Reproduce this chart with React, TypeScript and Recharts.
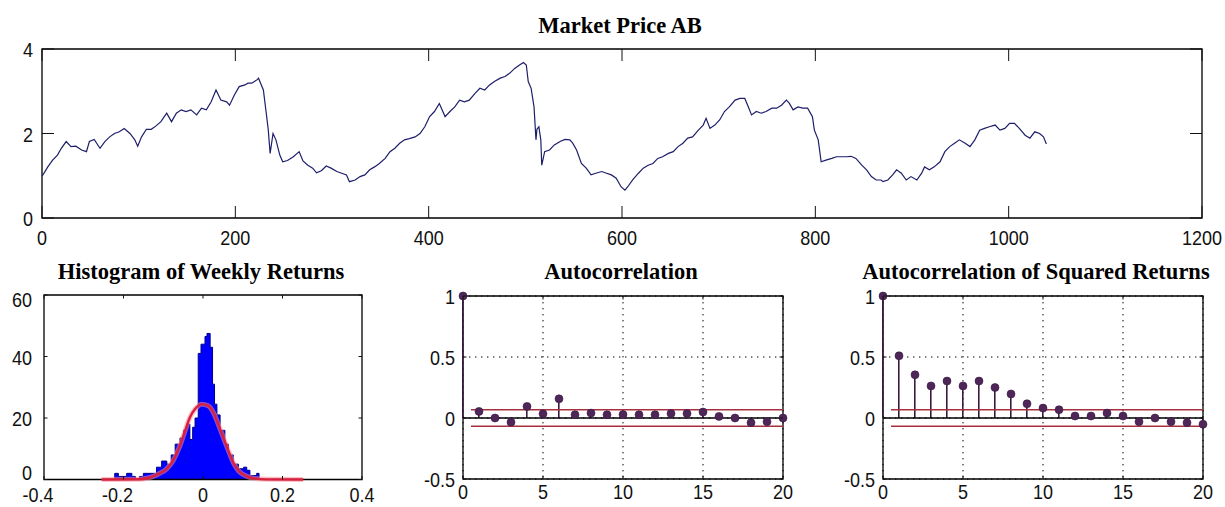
import React from 'react';
import {
  ComposedChart,
  Line,
  Area,
  Bar,
  Scatter,
  XAxis,
  YAxis,
  ReferenceLine,
  ReferenceArea,
  CartesianGrid,
} from 'recharts';

// ---- Weekly market price (week index, price) ----
const priceSeries: [number, number][] = [
  [0, 1.0], [1, 1.02], [6, 1.21], [11, 1.37], [16, 1.49], [20, 1.65], [25, 1.81], [30, 1.69],
  [35, 1.7], [41, 1.61], [46, 1.57], [49, 1.81], [54, 1.86], [60, 1.65], [65, 1.81], [70, 1.92],
  [75, 2.0], [80, 2.04], [85, 2.12], [91, 2.0], [96, 1.85], [99, 1.7], [103, 1.92], [108, 2.1],
  [113, 2.1], [118, 2.18], [123, 2.28], [129, 2.48], [134, 2.28], [139, 2.48], [144, 2.56],
  [149, 2.52], [154, 2.56], [160, 2.44], [165, 2.6], [170, 2.56], [175, 2.75], [180, 3.03],
  [185, 2.79], [191, 2.75], [194, 2.67], [199, 2.91], [204, 3.11], [210, 3.15], [213, 3.19],
  [217, 3.19], [223, 3.28], [224, 3.31], [229, 3.03], [232, 2.48], [234, 2.1], [236, 1.53],
  [239, 2.0], [242, 1.85], [246, 1.49], [249, 1.33], [254, 1.36], [260, 1.45], [266, 1.57],
  [270, 1.35], [275, 1.25], [280, 1.18], [284, 1.07], [289, 1.12], [294, 1.23], [299, 1.18],
  [305, 1.1], [310, 1.06], [315, 1.02], [318, 0.86], [324, 0.9], [329, 0.98], [334, 1.02],
  [339, 1.14], [344, 1.21], [349, 1.29], [355, 1.41], [360, 1.57], [365, 1.65], [370, 1.77],
  [375, 1.85], [380, 1.88], [386, 1.92], [391, 2.0], [396, 2.16], [401, 2.4], [406, 2.52],
  [411, 2.71], [417, 2.4], [422, 2.52], [427, 2.63], [432, 2.79], [437, 2.75], [442, 2.79],
  [448, 2.95], [453, 3.07], [458, 3.03], [463, 3.15], [468, 3.23], [474, 3.31], [479, 3.35],
  [484, 3.43], [489, 3.54], [494, 3.62], [498, 3.68], [501, 3.62], [503, 3.23], [506, 3.07],
  [509, 2.63], [511, 1.85], [512, 2.1], [514, 2.16], [516, 1.85], [517, 1.25], [520, 1.57],
  [525, 1.61], [530, 1.73], [536, 1.81], [541, 1.86], [546, 1.85], [549, 1.77], [553, 1.61],
  [558, 1.29], [563, 1.18], [568, 1.02], [573, 1.06], [579, 1.1], [584, 1.06], [589, 1.02],
  [594, 0.94], [599, 0.74], [603, 0.66], [606, 0.74], [611, 0.9], [617, 1.06], [622, 1.18],
  [627, 1.25], [632, 1.29], [637, 1.41], [642, 1.45], [648, 1.53], [653, 1.57], [658, 1.69],
  [663, 1.77], [668, 1.89], [673, 1.92], [679, 2.08], [684, 2.2], [687, 2.36], [691, 2.12],
  [696, 2.2], [701, 2.32], [706, 2.52], [711, 2.63], [717, 2.79], [722, 2.83], [727, 2.83],
  [730, 2.67], [734, 2.44], [739, 2.52], [744, 2.48], [749, 2.52], [755, 2.6], [760, 2.6],
  [765, 2.67], [770, 2.79], [773, 2.72], [777, 2.56], [782, 2.63], [787, 2.6], [792, 2.6],
  [797, 2.4], [799, 2.08], [803, 1.85], [806, 1.33], [811, 1.37], [817, 1.41], [822, 1.45],
  [827, 1.45], [832, 1.45], [837, 1.46], [842, 1.41], [848, 1.25], [853, 1.14], [858, 0.98],
  [863, 0.9], [868, 0.9], [870, 0.86], [875, 0.9], [880, 1.02], [884, 1.14], [889, 1.06],
  [894, 0.9], [899, 0.98], [905, 0.9], [910, 1.06], [913, 1.21], [918, 1.14], [923, 1.21],
  [929, 1.33], [934, 1.57], [939, 1.69], [944, 1.77], [949, 1.85], [955, 1.77], [960, 1.69],
  [965, 1.85], [970, 2.08], [975, 2.12], [980, 2.16], [986, 2.2], [991, 2.08], [996, 2.12],
  [1001, 2.24], [1006, 2.24], [1011, 2.12], [1017, 1.96], [1022, 1.89], [1027, 2.04],
  [1032, 2.0], [1036, 1.92], [1039, 1.75],
];

// ---- Histogram of weekly returns: [left bin edge, count] ----
const histBins: [number, number][] = [
  [-0.255, 0], [-0.222, 2], [-0.213, 1], [-0.192, 2], [-0.179, 1], [-0.17, 0], [-0.16, 1],
  [-0.15, 2], [-0.117, 4], [-0.104, 6], [-0.091, 5], [-0.08, 8], [-0.07, 11.5], [-0.058, 13.5],
  [-0.049, 16], [-0.041, 18], [-0.033, 13], [-0.026, 17], [-0.02, 20], [-0.012, 41],
  [-0.005, 44], [0.005, 46.5], [0.01, 47.5], [0.018, 43], [0.024, 31], [0.029, 24.5],
  [0.035, 21], [0.043, 16], [0.055, 11.5], [0.064, 8], [0.076, 5], [0.089, 3.5], [0.102, 4],
  [0.11, 3], [0.118, 1.3], [0.135, 2], [0.141, 0], [0.252, 0],
];

// ---- Fitted normal density (scaled to counts) ----
const fitCurve: [number, number][] = [
  [-0.255, 0], [-0.16, 0.1], [-0.138, 0.5], [-0.112, 1.8], [-0.091, 3.5], [-0.075, 6.2],
  [-0.058, 11], [-0.045, 15.9], [-0.033, 20.2], [-0.02, 22.9], [-0.003, 24.5], [0.013, 24.0],
  [0.026, 21.8], [0.038, 18.1], [0.051, 13.7], [0.064, 9.4], [0.076, 5.6], [0.089, 2.9],
  [0.106, 1.3], [0.131, 0.3], [0.16, 0.05], [0.252, 0],
];

// ---- Sample autocorrelations, lags 0..20 ----
const lags = [0, 1, 2, 3, 4, 5, 6, 7, 8, 9, 10, 11, 12, 13, 14, 15, 16, 17, 18, 19, 20];
const acfReturns = [
  1, 0.054, 0.0, -0.034, 0.095, 0.034, 0.157, 0.027, 0.04, 0.027, 0.028, 0.027, 0.027,
  0.036, 0.036, 0.049, 0.013, 0.0, -0.038, -0.03, 0.0,
];
const acfSquared = [
  1, 0.51, 0.354, 0.263, 0.303, 0.263, 0.303, 0.25, 0.197, 0.117, 0.081, 0.068, 0.016,
  0.016, 0.04, 0.016, -0.03, 0.0, -0.03, -0.038, -0.051,
];
const confBound = 0.0674;

// ---- Axis ticks ----
const priceXTicks = [0, 200, 400, 600, 800, 1000, 1200];
const priceYTicks = [0, 2, 4];
const histXTicks = [-0.4, -0.2, 0, 0.2, 0.4];
const histYTicks = [0, 20, 40, 60];
const lagTicks = [0, 5, 10, 15, 20];
const acfYTicks = [-0.5, 0, 0.5, 1];

const priceTable = priceSeries.map(([week, price]) => ({ week, price }));
const histTable = histBins.map(([x, count]) => ({ x, count }));
const fitTable = fitCurve.map(([x, y]) => ({ x, y }));
const acfTable = lags.map((lag, i) => ({ lag, r: acfReturns[i] }));
const sqTable = lags.map((lag, i) => ({ lag, r: acfSquared[i] }));

const INK = '#111';
const LABEL_FONT = "'Liberation Sans', Arial, Helvetica, sans-serif";
const TITLE_FONT = "'Liberation Serif', 'Times New Roman', serif";

const Y_AXIS_W = 60;
const X_AXIS_H = 40;
const M_TOP = 12;
const M_RIGHT = 24;

const fmt = (v: number) => String(v);

// Bottom tick: inward mark on bottom and top edges plus the label below.
// Negative labels sit a little left so the digits stay near the tick.
const makeXTick = (len: number, plotH: number, dy: number) => (props: any) => {
  const { x, y, payload } = props;
  const v = payload.value as number;
  const dx = v < 0 ? -6 : 0;
  return (
    <g>
      <line x1={x} x2={x} y1={y} y2={y - len} stroke={INK} strokeWidth={1} />
      <line x1={x} x2={x} y1={y - plotH} y2={y - plotH + len} stroke={INK} strokeWidth={1} />
      <text
        transform={`translate(${x + dx},${y + dy}) scale(0.9,1)`}
        textAnchor="middle"
        fontFamily={LABEL_FONT}
        fontSize={20}
        fill={INK}
      >
        {fmt(v)}
      </text>
    </g>
  );
};

// Left tick: inward mark on left and right edges plus the label at left.
const makeYTick =
  (len: number, plotW: number, gap: number, nudge: (v: number) => number) => (props: any) => {
    const { x, y, payload } = props;
    const v = payload.value as number;
    return (
      <g>
        <line x1={x} x2={x + len} y1={y} y2={y} stroke={INK} strokeWidth={1} />
        <line x1={x + plotW} x2={x + plotW - len} y1={y} y2={y} stroke={INK} strokeWidth={1} />
        <text
          transform={`translate(${x - gap},${y + 8 + nudge(v)}) scale(0.9,1)`}
          textAnchor="end"
          fontFamily={LABEL_FONT}
          fontSize={20}
          fill={INK}
        >
          {fmt(v)}
        </text>
      </g>
    );
  };

type PanelProps = {
  plotLeft: number;
  plotTop: number;
  plotW: number;
  plotH: number;
  data: any[];
  xKey: string;
  xDomain: [number, number];
  yDomain: [number, number];
  xTicks: number[];
  yTicks: number[];
  tickLen: number;
  xLabelDy: number;
  yLabelGap: number;
  yNudge?: (v: number) => number;
  grid?: boolean;
  children?: React.ReactNode;
};

const Panel = (p: PanelProps) => {
  const width = Y_AXIS_W + p.plotW + M_RIGHT;
  const height = M_TOP + p.plotH + X_AXIS_H;
  return (
    <div style={{ position: 'absolute', left: p.plotLeft - Y_AXIS_W, top: p.plotTop - M_TOP }}>
      <ComposedChart
        width={width}
        height={height}
        data={p.data}
        margin={{ top: M_TOP, right: M_RIGHT, bottom: 0, left: 0 }}
      >
        {p.grid && (
          <CartesianGrid stroke="#000" strokeWidth={1} strokeDasharray="1.4 4.6" />
        )}
        <XAxis
          dataKey={p.xKey}
          type="number"
          domain={p.xDomain}
          ticks={p.xTicks}
          interval={0}
          height={X_AXIS_H}
          axisLine={false}
          tickLine={false}
          tickSize={0}
          tickMargin={0}
          tick={makeXTick(p.tickLen, p.plotH, p.xLabelDy)}
        />
        <YAxis
          type="number"
          domain={p.yDomain}
          ticks={p.yTicks}
          interval={0}
          width={Y_AXIS_W}
          axisLine={false}
          tickLine={false}
          tickSize={0}
          tickMargin={0}
          tick={makeYTick(p.tickLen, p.plotW, p.yLabelGap, p.yNudge ?? (() => 0))}
        />
        {p.children}
        <ReferenceArea
          x1={p.xDomain[0]}
          x2={p.xDomain[1]}
          y1={p.yDomain[0]}
          y2={p.yDomain[1]}
          fill="none"
          fillOpacity={0}
          stroke="#000"
          strokeWidth={1.3}
          ifOverflow="visible"
        />
      </ComposedChart>
    </div>
  );
};

const StemDot = (props: any) => {
  const { cx, cy } = props;
  if (cx == null || cy == null) return null;
  return <circle cx={cx} cy={cy} r={4} fill="#4e2658" stroke="#3a1a44" strokeWidth={0.6} />;
};

const acfChildren = () => [
  <ReferenceLine key="zero" y={0} stroke="#000" strokeWidth={1.6} />,
  <ReferenceLine
    key="hi"
    segment={[{ x: 0.5, y: confBound }, { x: 20, y: confBound }]}
    stroke="#a8303e"
    strokeWidth={1.4}
  />,
  <ReferenceLine
    key="lo"
    segment={[{ x: 0.5, y: -confBound }, { x: 20, y: -confBound }]}
    stroke="#a8303e"
    strokeWidth={1.4}
  />,
  <Bar key="stem" dataKey="r" barSize={1.6} fill="#3a1c42" isAnimationActive={false} />,
  <Scatter key="dot" dataKey="r" shape={StemDot} isAnimationActive={false} />,
];

const Title = ({ cx, baseline, text }: { cx: number; baseline: number; text: string }) => (
  <text
    x={cx}
    y={baseline}
    textAnchor="middle"
    fontFamily={TITLE_FONT}
    fontWeight="bold"
    fontSize={22.5}
    fill="#000"
  >
    {text}
  </text>
);

// End labels of the histogram count axis are pulled in toward the plot.
const histNudge = (v: number) => (v === 0 ? -8 : v === 60 ? 4 : 0);

export default function App() {
  return (
    <div
      style={{
        position: 'absolute',
        left: 0,
        top: 0,
        width: 1225,
        height: 507,
        background: '#fff',
        overflow: 'hidden',
      }}
    >
      <svg
        width={1225}
        height={507}
        style={{ position: 'absolute', left: 0, top: 0, pointerEvents: 'none' }}
      >
        <Title cx={620} baseline={32.5} text="Market Price AB" />
        <Title cx={201} baseline={279} text="Histogram of Weekly Returns" />
        <Title cx={621} baseline={279} text="Autocorrelation" />
        <Title cx={1036} baseline={279} text="Autocorrelation of Squared Returns" />
      </svg>

      <Panel
        plotLeft={42}
        plotTop={49}
        plotW={1160}
        plotH={169}
        data={priceTable}
        xKey="week"
        xDomain={[0, 1200]}
        yDomain={[0, 4]}
        xTicks={priceXTicks}
        yTicks={priceYTicks}
        tickLen={12}
        xLabelDy={27}
        yLabelGap={9}
      >
        <Line
          dataKey="price"
          type="linear"
          stroke="#1e1e6a"
          strokeWidth={1.2}
          dot={false}
          isAnimationActive={false}
        />
      </Panel>

      <Panel
        plotLeft={44}
        plotTop={294.5}
        plotW={318}
        plotH={184.5}
        data={histTable}
        xKey="x"
        xDomain={[-0.4, 0.4]}
        yDomain={[0, 60]}
        xTicks={histXTicks}
        yTicks={histYTicks}
        tickLen={3.5}
        xLabelDy={22}
        yLabelGap={12}
        yNudge={histNudge}
      >
        <Area
          dataKey="count"
          type="stepAfter"
          fill="#0000ff"
          fillOpacity={1}
          stroke="#00008a"
          strokeWidth={1}
          isAnimationActive={false}
        />
        <Line
          data={fitTable}
          dataKey="y"
          type="monotone"
          stroke="#ff8a9a"
          strokeOpacity={0.55}
          strokeWidth={5}
          dot={false}
          isAnimationActive={false}
        />
        <Line
          data={fitTable}
          dataKey="y"
          type="monotone"
          stroke="#d8203c"
          strokeWidth={2.4}
          dot={false}
          isAnimationActive={false}
        />
      </Panel>

      <Panel
        plotLeft={463}
        plotTop={296}
        plotW={320}
        plotH={183}
        data={acfTable}
        xKey="lag"
        xDomain={[0, 20]}
        yDomain={[-0.5, 1]}
        xTicks={lagTicks}
        yTicks={acfYTicks}
        tickLen={3.5}
        xLabelDy={20}
        yLabelGap={8}
        grid
      >
        {acfChildren()}
      </Panel>

      <Panel
        plotLeft={883}
        plotTop={296}
        plotW={320}
        plotH={183}
        data={sqTable}
        xKey="lag"
        xDomain={[0, 20]}
        yDomain={[-0.5, 1]}
        xTicks={lagTicks}
        yTicks={acfYTicks}
        tickLen={3.5}
        xLabelDy={20}
        yLabelGap={8}
        grid
      >
        {acfChildren()}
      </Panel>
    </div>
  );
}
